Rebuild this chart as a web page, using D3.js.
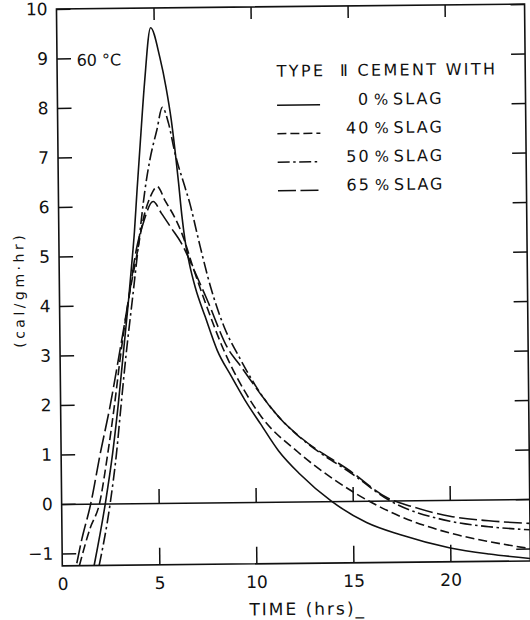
<!DOCTYPE html>
<html><head><meta charset="utf-8">
<script src="https://cdn.jsdelivr.net/npm/d3@7"></script>
<style>
body{margin:0;background:#fff}
text{font-family:"DejaVu Sans",sans-serif;fill:#111}
</style>
</head><body>
<svg id="chart" width="530" height="620"></svg>
<script>
// ---- data ----
const hours0 = [1.64, 2.25, 2.65, 2.97, 3.25, 3.53, 3.72, 3.9, 4.05, 4.25, 4.5, 4.84, 5.3, 5.6, 5.85, 6.05, 6.2, 6.35, 6.5, 6.7, 7.0, 7.5, 8.1, 8.8, 9.5, 10.3, 11.2, 12.3, 13.9, 15.7, 17.4, 20.0, 22.0, 24.1];
const slag0  = [-1.25, 0, 1, 2, 3, 4.0, 4.75, 5.5, 6.3, 7.3, 8.5, 9.6, 9.0, 8.4, 7.75, 7.05, 6.45, 5.8, 5.3, 4.85, 4.35, 3.75, 3.07, 2.55, 2.06, 1.57, 1.03, 0.55, 0, -0.44, -0.69, -0.97, -1.1, -1.2];

const hours40 = [0.88, 1.45, 1.95, 2.4, 2.78, 3.12, 3.55, 4.0, 4.4, 4.75, 5.1, 5.5, 6.0, 6.35, 6.9, 7.5, 8.44, 9.78, 10.3, 12.2, 14.0, 15.8, 17.43, 20.0, 22.0, 24.1];
const slag40  = [-1.25, -0.5, 0, 1, 2, 3, 4.1, 5.0, 5.8, 6.2, 6.39, 6.1, 5.75, 5.43, 4.75, 4.05, 3.07, 2.05, 1.74, 1.0, 0.45, 0, -0.32, -0.67, -0.85, -1.0];

const hours50 = [1.9, 2.5, 2.85, 3.12, 3.4, 3.75, 4.15, 4.46, 4.73, 5.11, 5.4, 5.71, 6.03, 6.52, 6.77, 7.2, 7.8, 8.47, 9.2, 10.55, 11.4, 12.3, 13.1, 14.9, 16.9, 20.0, 22.0, 24.1];
const slag50  = [-1.25, 0, 1, 2, 3, 4.1, 5.38, 6.32, 6.93, 7.54, 7.99, 7.67, 7.06, 6.38, 6.04, 5.3, 4.34, 3.54, 2.95, 2.05, 1.64, 1.3, 1.05, 0.57, 0.0, -0.43, -0.55, -0.62];

const hours65 = [0.75, 1.0, 1.5, 2.0, 2.55, 3.03, 3.55, 4.0, 4.35, 4.88, 5.3, 5.8, 6.3, 7.0, 7.6, 8.7, 9.2, 10.55, 11.4, 12.3, 14.9, 16.8, 18.0, 20.0, 22.0, 24.1];
const slag65  = [-1.2, -0.75, 0, 0.98, 1.97, 2.97, 4.1, 5.15, 5.65, 6.09, 5.85, 5.55, 5.25, 4.65, 4.1, 3.07, 2.8, 2.05, 1.64, 1.31, 0.6, 0.05, -0.12, -0.33, -0.43, -0.49];

const xTicks = [0, 5, 10, 15, 20];
const xInnerTicks = [5, 10, 15, 20];
const yTicks = [-1, 0, 1, 2, 3, 4, 5, 6, 7, 8, 9, 10];
const legendTitle = "TYPE  \u2161 CEMENT WITH";
const legendPct = ["0", "40", "50", "65"];
const tempLabel = "60 \u00B0C";
const xTitle = "TIME (hrs)_";
const yTitle = "(cal/gm\u00B7hr)";

// ---- styles ----
const dashes = [null, "9,4", "12,3.5,2.5,3.5", "18,4.5"];

const series = [
  [hours0, slag0], [hours40, slag40], [hours50, slag50], [hours65, slag65]
].map(([h, v]) => h.map((t, i) => [t, v[i]]));

const svg = d3.select("#chart");
const g = svg.append("g").attr("transform", "rotate(-0.6 295 288)");

const x = d3.scaleLinear().domain([0, 24.12]).range([59.4, 527.5]);
const y = d3.scaleLinear().domain([-1.25, 10]).range([563.4, 6.5]);

const ink = "#111";

svg.append("defs").append("clipPath").attr("id", "plot")
  .append("rect").attr("x", x(0)).attr("y", y(10))
  .attr("width", x(24.12) - x(0)).attr("height", y(-1.25) - y(10));

function styleAxis(sel, fs) {
  sel.select(".domain").remove();
  sel.selectAll(".tick line").attr("stroke", ink).attr("stroke-width", 1.5);
  sel.selectAll(".tick text").attr("font-size", fs).attr("fill", ink)
     .attr("font-family", "DejaVu Sans, sans-serif");
}

// left axis with labels
g.append("g").attr("transform", `translate(${x(0)},0)`)
  .call(d3.axisLeft(y).tickValues(yTicks).tickSize(-14).tickPadding(9).tickFormat(d3.format("d")))
  .call(s => styleAxis(s, 17));

// right axis ticks
g.append("g").attr("transform", `translate(${x(24.12)},0)`)
  .call(d3.axisRight(y).tickValues(yTicks).tickSize(-14).tickFormat(""))
  .call(s => styleAxis(s, 17));

// bottom axis with labels
g.append("g").attr("transform", `translate(0,${y(-1.25)})`)
  .call(d3.axisBottom(x).tickValues(xTicks).tickSize(-17).tickPadding(12).tickFormat(d3.format("d")))
  .call(s => styleAxis(s, 17))
  .call(s => s.selectAll(".tick").filter(d => d === 0).select("line").remove());

// top axis ticks
g.append("g").attr("transform", `translate(0,${y(10)})`)
  .call(d3.axisTop(x).tickValues(xInnerTicks).tickSize(-12).tickFormat(""))
  .call(s => styleAxis(s, 17));

// zero line with ticks
g.append("g").attr("transform", `translate(0,${y(0)})`)
  .call(d3.axisBottom(x).tickValues(xInnerTicks).tickSize(-14).tickSizeOuter(0).tickFormat(""))
  .call(s => {
    s.select(".domain").attr("stroke", ink).attr("stroke-width", 1.4);
    s.selectAll(".tick line").attr("stroke", ink).attr("stroke-width", 1.5);
  });

// frame
g.append("rect").attr("x", x(0)).attr("y", y(10))
  .attr("width", x(24.12) - x(0)).attr("height", y(-1.25) - y(10))
  .attr("fill", "none").attr("stroke", ink).attr("stroke-width", 1.6);

// curves
const line = d3.line().x(d => x(d[0])).y(d => y(d[1])).curve(d3.curveMonotoneX);
const cg = g.append("g").attr("clip-path", "url(#plot)");
series.forEach((s, i) => {
  cg.append("path").attr("d", line(s)).attr("fill", "none")
    .attr("stroke", ink).attr("stroke-width", 1.6)
    .attr("stroke-dasharray", dashes[i]);
});

// temperature label
g.append("text").attr("x", 79).attr("y", y(9) + 2).attr("dominant-baseline", "central")
  .attr("font-size", 16).text(tempLabel);

// legend
g.append("text").attr("x", 279).attr("y", 71).attr("dominant-baseline", "central")
  .attr("font-size", 16).attr("letter-spacing", 2.3).style("white-space", "pre")
  .text(legendTitle);
const rowY = [100, 128.5, 157, 185.5];
legendPct.forEach((p, i) => {
  g.append("line").attr("x1", 279).attr("x2", 322).attr("y1", rowY[i] + 5).attr("y2", rowY[i] + 5)
    .attr("stroke", ink).attr("stroke-width", 1.5).attr("stroke-dasharray", dashes[i]);
  g.append("text").attr("x", 372).attr("y", rowY[i]).attr("text-anchor", "end")
    .attr("dominant-baseline", "central").attr("font-size", 16).attr("letter-spacing", 2).text(p);
  g.append("text").attr("x", 376).attr("y", rowY[i] + 0.5).attr("dominant-baseline", "central")
    .attr("font-size", 15).text("%");
  g.append("text").attr("x", 395).attr("y", rowY[i]).attr("dominant-baseline", "central")
    .attr("font-size", 16).attr("letter-spacing", 2).text("SLAG");
});

// axis titles
g.append("text").attr("x", 246).attr("y", 609).attr("dominant-baseline", "central")
  .attr("font-size", 17).attr("letter-spacing", 2).text(xTitle);
g.append("text").attr("transform", "translate(19,287) rotate(-90)")
  .attr("text-anchor", "middle").attr("dominant-baseline", "central")
  .attr("font-size", 14).attr("letter-spacing", 3.5).text(yTitle);
</script>
</body></html>
